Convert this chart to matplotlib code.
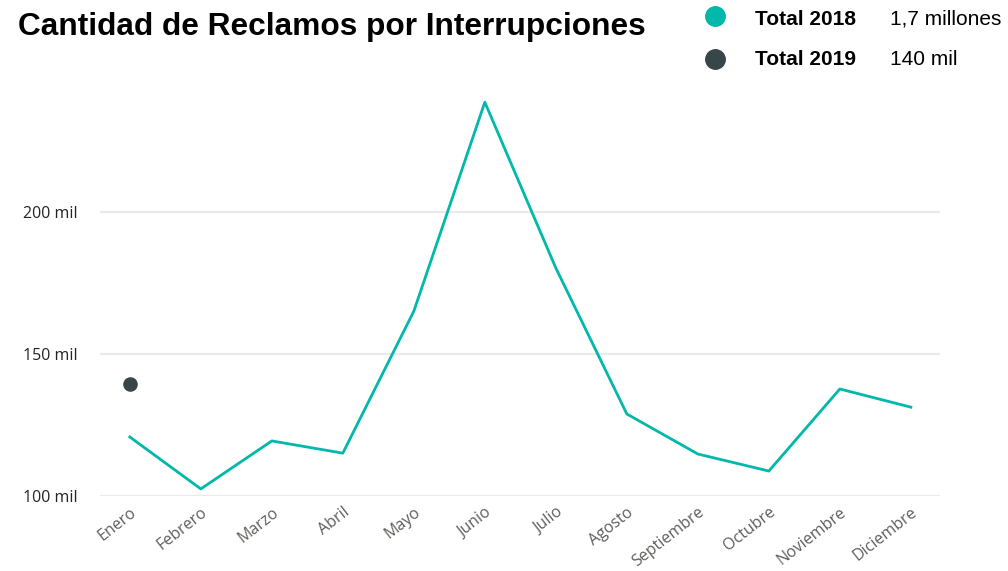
import matplotlib
matplotlib.use('Agg')
import matplotlib.pyplot as plt
from matplotlib.ticker import FuncFormatter

meses = ['Enero', 'Febrero', 'Marzo', 'Abril', 'Mayo', 'Junio', 'Julio',
         'Agosto', 'Septiembre', 'Octubre', 'Noviembre', 'Diciembre']
# miles de reclamos
total_2018 = [120.8, 102.5, 119.4, 115.1, 165.1, 238.7, 180.3,
              128.9, 114.8, 108.8, 137.7, 131.3]
total_2019 = [139.4]
y_ticks = [100, 150, 200]

teal = '#01B8AA'
dark = '#374649'

fig = plt.figure(figsize=(10.08, 5.71), dpi=100)
ax = fig.add_axes([0.0992, 0.1313, 0.8333, 0.7111])

x = list(range(len(meses)))
ax.plot(x, total_2018, color=teal, linewidth=2.0, clip_on=False, zorder=3)
ax.scatter(x[:len(total_2019)], total_2019, s=110, color=dark, zorder=4, linewidths=0)

ax.set_xlim(-0.42, 11.41)
ax.set_ylim(100, 243)
ax.set_yticks(y_ticks)
ax.yaxis.set_major_formatter(FuncFormatter(lambda v, p: f'{int(v)} mil'))
ax.grid(axis='y', color='#eaeaea', linewidth=1.6)
ax.set_axisbelow(True)
for s in ax.spines.values():
    s.set_visible(False)
ax.tick_params(axis='y', length=0, pad=16, labelsize=11.5, labelcolor='#252423')
ax.set_xticks(x)
ax.set_xticklabels(meses, rotation=38, ha='right', rotation_mode='anchor',
                   fontsize=11.5, color='#605e5c')
ax.tick_params(axis='x', length=0, pad=6)
for lab in ax.get_xticklabels() + ax.get_yticklabels():
    lab.set_family('Open Sans')

fig.text(0.018, 0.952, 'Cantidad de Reclamos por Interrupciones', fontsize=22.8,
         fontweight='bold', family='Liberation Sans', va='center', ha='left')

# leyenda
ly = [0.972, 0.897]
for yy, c in zip(ly, [teal, dark]):
    fig.add_artist(plt.Line2D([0.709], [yy], marker='o', markersize=14,
                              color=c, linestyle='none', transform=fig.transFigure))
ty = [0.966, 0.896]
fig.text(0.749, ty[0], 'Total 2018', fontsize=15, fontweight='bold',
         family='Liberation Sans', va='center')
fig.text(0.749, ty[1], 'Total 2019', fontsize=15, fontweight='bold',
         family='Liberation Sans', va='center')
fig.text(0.883, ty[0], '1,7 millones', fontsize=15, family='Liberation Sans', va='center')
fig.text(0.883, ty[1], '140 mil', fontsize=15, family='Liberation Sans', va='center')

fig.savefig('out.png', dpi=100)
